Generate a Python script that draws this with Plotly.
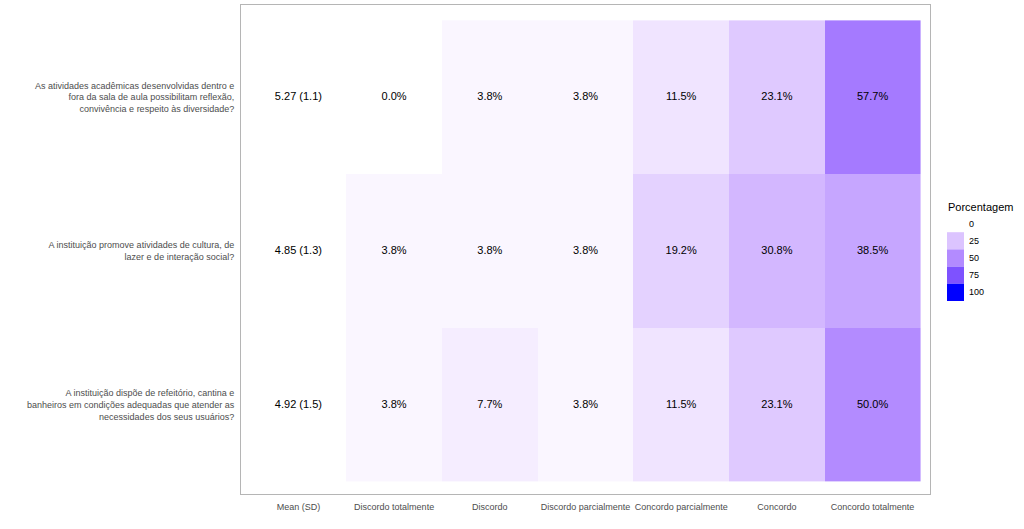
import plotly.graph_objects as go

questions = [
    "As atividades acadêmicas desenvolvidas dentro e<br>fora da sala de aula possibilitam reflexão,<br>convivência e respeito às diversidade?",
    "A instituição promove atividades de cultura, de<br>lazer e de interação social?",
    "A instituição dispõe de refeitório, cantina e<br>banheiros em condições adequadas que atender as<br>necessidades dos seus usuários?",
]
categories = ["Discordo totalmente", "Discordo", "Discordo parcialmente",
              "Concordo parcialmente", "Concordo", "Concordo totalmente"]
mean_label = "Mean (SD)"
mean_sd = ["5.27 (1.1)", "4.85 (1.3)", "4.92 (1.5)"]
percentages = [
    [0.0, 3.8, 3.8, 11.5, 23.1, 57.7],
    [3.8, 3.8, 3.8, 19.2, 30.8, 38.5],
    [3.8, 7.7, 3.8, 11.5, 23.1, 50.0],
]
legend_breaks = [0, 25, 50, 75, 100]


# ---- Lab interpolation white -> blue (ggplot-like gradient) ----
def srgb_to_lin(c):
    c = c / 255.0
    return c / 12.92 if c <= 0.04045 else ((c + 0.055) / 1.055) ** 2.4


def lin_to_srgb(c):
    c = max(0.0, min(1.0, c))
    v = 12.92 * c if c <= 0.0031308 else 1.055 * c ** (1 / 2.4) - 0.055
    return int(round(max(0, min(1, v)) * 255))


XN, YN, ZN = 0.95047, 1.0, 1.08883


def rgb_to_lab(rgb):
    r, g, b = [srgb_to_lin(v) for v in rgb]
    x = 0.4124 * r + 0.3576 * g + 0.1805 * b
    y = 0.2126 * r + 0.7152 * g + 0.0722 * b
    z = 0.0193 * r + 0.1192 * g + 0.9505 * b

    def f(t):
        return t ** (1 / 3) if t > 0.008856 else 7.787 * t + 16 / 116

    fx, fy, fz = f(x / XN), f(y / YN), f(z / ZN)
    return (116 * fy - 16, 500 * (fx - fy), 200 * (fy - fz))


def lab_to_rgb(lab):
    L, a, bb = lab
    fy = (L + 16) / 116
    fx = fy + a / 500
    fz = fy - bb / 200

    def finv(t):
        return t ** 3 if t ** 3 > 0.008856 else (t - 16 / 116) / 7.787

    x, y, z = XN * finv(fx), YN * finv(fy), ZN * finv(fz)
    r = 3.2406 * x - 1.5372 * y - 0.4986 * z
    g = -0.9689 * x + 1.8758 * y + 0.0415 * z
    b = 0.0557 * x - 0.2040 * y + 1.0570 * z
    return "rgb(%d,%d,%d)" % (lin_to_srgb(r), lin_to_srgb(g), lin_to_srgb(b))


LOW = rgb_to_lab((255, 255, 255))
HIGH = rgb_to_lab((0, 0, 255))


def grad(t):
    return lab_to_rgb(tuple(LOW[i] + (HIGH[i] - LOW[i]) * t for i in range(3)))


colorscale = [[i / 40, grad(i / 40)] for i in range(41)]
FONT = "Liberation Sans, Arial, sans-serif"
x_all = [mean_label] + categories

fig = go.Figure()

# Tiles (Mean column left empty)
fig.add_trace(go.Heatmap(
    x=x_all, y=questions,
    z=[[None] + row for row in percentages],
    colorscale=colorscale, zmin=0, zmax=100, showscale=False,
    hoverinfo="skip", xgap=0, ygap=0,
))

# Cell labels
tx, ty, tt = [], [], []
for qi, q in enumerate(questions):
    tx.append(mean_label)
    ty.append(q)
    tt.append(mean_sd[qi])
    for ci, c in enumerate(categories):
        tx.append(c)
        ty.append(q)
        tt.append("%.1f%%" % percentages[qi][ci])
fig.add_trace(go.Scatter(
    x=tx, y=ty, text=tt, mode="text",
    textfont=dict(size=11, color="black", family=FONT),
    hoverinfo="skip", showlegend=False,
))

border = "#B5B5B5"
fig.update_xaxes(
    type="category", categoryorder="array", categoryarray=x_all,
    range=[-0.6, 6.6], showgrid=False, zeroline=False, ticks="",
    showline=True, linecolor=border, linewidth=1, mirror=True, automargin=False,
    tickfont=dict(size=9, color="#4D4D4D", family=FONT),
    ticklabelstandoff=4,
)
fig.update_yaxes(
    type="category", categoryorder="array", categoryarray=questions,
    range=[2.58, -0.6], showgrid=False, zeroline=False, ticks="",
    showline=True, linecolor=border, linewidth=1, mirror=True, automargin=False,
    tickfont=dict(size=9, color="#4D4D4D", family=FONT),
    ticklabelstandoff=4,
)

W, H = 1024, 529
ml, mr, mt, mb = 241, 94, 5, 35
pw, ph = W - ml - mr, H - mt - mb


def px(xp):
    return (xp - ml) / pw


def py(yp):
    return 1 - (yp - mt) / ph


shapes = []
annotations = [dict(x=px(946), y=py(207), xref="paper", yref="paper",
                    text="Porcentagem", showarrow=False, xanchor="left", yanchor="middle",
                    font=dict(size=11, color="black", family=FONT))]
key_top = 215
key_h = 17.2
for i, b in enumerate(legend_breaks):
    y0 = key_top + i * key_h
    shapes.append(dict(type="rect", xref="paper", yref="paper",
                       x0=px(947), x1=px(964), y0=py(y0), y1=py(y0 + key_h),
                       fillcolor=grad(b / 100), line=dict(width=0), layer="above"))
    annotations.append(dict(x=px(967), y=py(y0 + key_h / 2), xref="paper", yref="paper",
                            text=str(b), showarrow=False, xanchor="left", yanchor="middle",
                            font=dict(size=9, color="black", family=FONT)))

fig.update_layout(
    width=W, height=H,
    margin=dict(l=ml, r=mr, t=mt, b=mb),
    paper_bgcolor="white", plot_bgcolor="white",
    showlegend=False, shapes=shapes, annotations=annotations,
    font=dict(family=FONT),
)

fig.write_html("out.html", config={"displayModeBar": False},
               post_script="document.body.style.margin='0';document.body.style.overflow='hidden';")
